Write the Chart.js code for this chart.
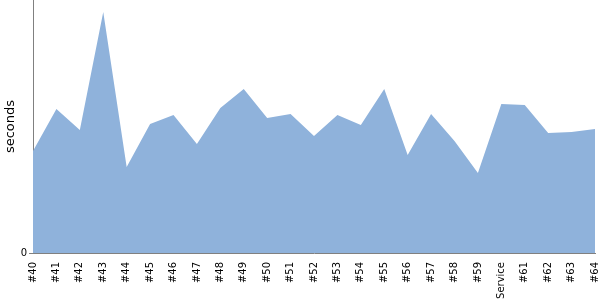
<!DOCTYPE html>
<html>
<head>
<meta charset="utf-8">
<script src="https://cdn.jsdelivr.net/npm/chart.js@4/dist/chart.umd.min.js"></script>
<style>
  html, body { margin: 0; padding: 0; background: #fff; }
  #wrap { width: 600px; height: 300px; }
</style>
</head>
<body>
<div id="wrap"><canvas id="buildChart"></canvas></div>
<script>
// Datos
const builds = ['#40', '#41', '#42', '#43', '#44', '#45', '#46', '#47', '#48', '#49',
                '#50', '#51', '#52', '#53', '#54', '#55', '#56', '#57', '#58', '#59',
                'Service', '#61', '#62', '#63', '#64'];
const durations = [102, 144, 123, 241, 86, 129, 138, 109, 145, 164,
                   135, 139, 117, 138, 128, 164, 98, 139, 112, 80,
                   149, 148, 120, 121, 124];
const yTicks = [0];
const yMax = 253;

const axisGrey = '#808080';
const fontFace = "'DejaVu Sans', Verdana, sans-serif";

new Chart(document.getElementById('buildChart'), {
    type: 'line',
    data: {
        labels: builds,
        datasets: [{
            data: durations,
            fill: 'origin',
            backgroundColor: '#8fb2db',
            borderWidth: 0,
            pointRadius: 0,
            tension: 0
        }]
    },
    options: {
        responsive: true,
        maintainAspectRatio: false,
        animation: false,
        layout: { padding: { top: 0, right: 5, left: 0, bottom: 0 } },
        plugins: {
            legend: { display: false },
            tooltip: { enabled: false }
        },
        scales: {
            x: {
                offset: false,
                grid: { display: false },
                border: { display: true, color: axisGrey, width: 1 },
                ticks: {
                    autoSkip: false,
                    minRotation: 90,
                    maxRotation: 90,
                    padding: 1,
                    color: '#000',
                    font: { family: fontFace, size: 10 }
                },
                afterFit: s => {
                    s.height = 47;
                    s.paddingLeft = 0;
                    s.paddingRight = 0;
                }
            },
            y: {
                min: 0,
                max: yMax,
                afterBuildTicks: s => { s.ticks = yTicks.map(v => ({ value: v })); },
                grid: { drawOnChartArea: false, drawTicks: true, tickLength: 4, color: axisGrey },
                border: { display: true, color: axisGrey, width: 1 },
                ticks: {
                    padding: 2,
                    color: '#000',
                    font: { family: fontFace, size: 10 }
                },
                title: {
                    display: true,
                    text: 'seconds',
                    color: '#000',
                    padding: { top: 3, bottom: 0 },
                    font: { family: fontFace, size: 13 }
                },
                afterFit: s => {
                    s.width = 33;
                    s.paddingTop = 0;
                    s.paddingBottom = 0;
                }
            }
        }
    }
});
</script>
</body>
</html>
